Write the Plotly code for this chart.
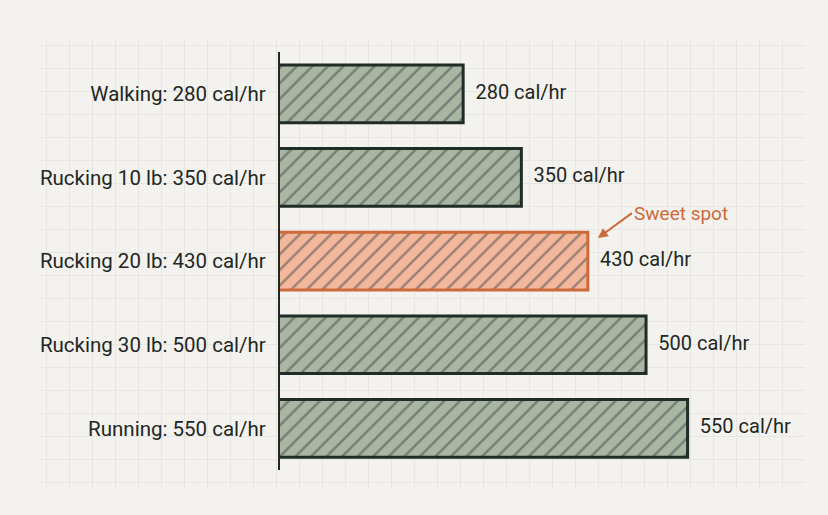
import plotly.graph_objects as go

# Data
activities = ["Walking", "Rucking 10 lb", "Rucking 20 lb", "Rucking 30 lb", "Running"]
calories = [280, 350, 430, 500, 550]
highlight = "Rucking 20 lb"
note_text = "Sweet spot"

labels = [f"{a}: {c} cal/hr" for a, c in zip(activities, calories)]
value_text = [f"{c} cal/hr" for c in calories]

# Colours
bg = "#f3f2ee"
grid = "#e7e6e1"
ink = "#222723"
green_fill = "#a9b6a2"
green_line = "#1f2d26"
orange_fill = "#f3b89c"
orange_line = "#cd6a3a"

fills = [orange_fill if a == highlight else green_fill for a in activities]
lines = [orange_line if a == highlight else green_line for a in activities]

fig = go.Figure()

# empty trace so the background grid subplot gets drawn
fig.add_trace(go.Scatter(x=[], y=[], xaxis="x", yaxis="y", hoverinfo="skip", showlegend=False))

fig.add_trace(go.Bar(
    x=calories,
    y=labels,
    orientation="h",
    xaxis="x2", yaxis="y2",
    marker=dict(
        color=fills,
        line=dict(color=lines, width=3),
        pattern=dict(shape="/", fgcolor=lines, bgcolor=fills, size=11, solidity=0.22),
    ),
    hoverinfo="skip",
))

# value labels just past the bar ends
fig.add_trace(go.Scatter(
    x=calories,
    y=labels,
    xaxis="x2", yaxis="y2",
    mode="markers+text",
    marker=dict(size=18, color="rgba(0,0,0,0)"),
    text=value_text,
    textposition="middle right",
    textfont=dict(size=20, color=ink),
    cliponaxis=False,
    hoverinfo="skip",
))

hi = activities.index(highlight)
fig.add_annotation(
    x=calories[hi], y=labels[hi], xref="x2", yref="y2",
    xshift=10, yshift=23,
    text=note_text,
    font=dict(size=19, color=orange_line),
    showarrow=True, arrowhead=2, arrowsize=1, arrowwidth=2, arrowcolor=orange_line,
    ax=34, ay=-25, xanchor="left", yanchor="middle",
)

fig.update_layout(
    width=828, height=515,
    margin=dict(l=0, r=0, t=0, b=0),
    paper_bgcolor=bg,
    plot_bgcolor="rgba(0,0,0,0)",
    font=dict(family="Roboto", color=ink),
    showlegend=False,
    bargap=0.31,
    # background graph-paper grid
    xaxis=dict(domain=[0.048, 0.972], range=[0, 765], tick0=7, dtick=23,
               showgrid=True, gridcolor=grid, gridwidth=1, zeroline=False,
               showticklabels=False, ticks="", fixedrange=True),
    yaxis=dict(domain=[0.052, 0.922], range=[448, 0], tick0=5, dtick=23,
               showgrid=True, gridcolor=grid, gridwidth=1, zeroline=False,
               showticklabels=False, ticks="", fixedrange=True),
    # main bar chart
    xaxis2=dict(domain=[0.338, 0.972], range=[59.5, 691], anchor="y2",
                showgrid=False, zeroline=False, showticklabels=False, ticks="",
                showline=False),
    yaxis2=dict(domain=[0.087, 0.899], anchor="x2", type="category",
                range=[4.5, -0.5], showgrid=False, zeroline=False,
                showline=True, linecolor=ink, linewidth=2, ticks="",
                ticklabelstandoff=8, tickfont=dict(size=20.5, color=ink)),
)

fig.write_html("out.html", config={"displayModeBar": False},
               post_script="document.body.style.margin='0';")
